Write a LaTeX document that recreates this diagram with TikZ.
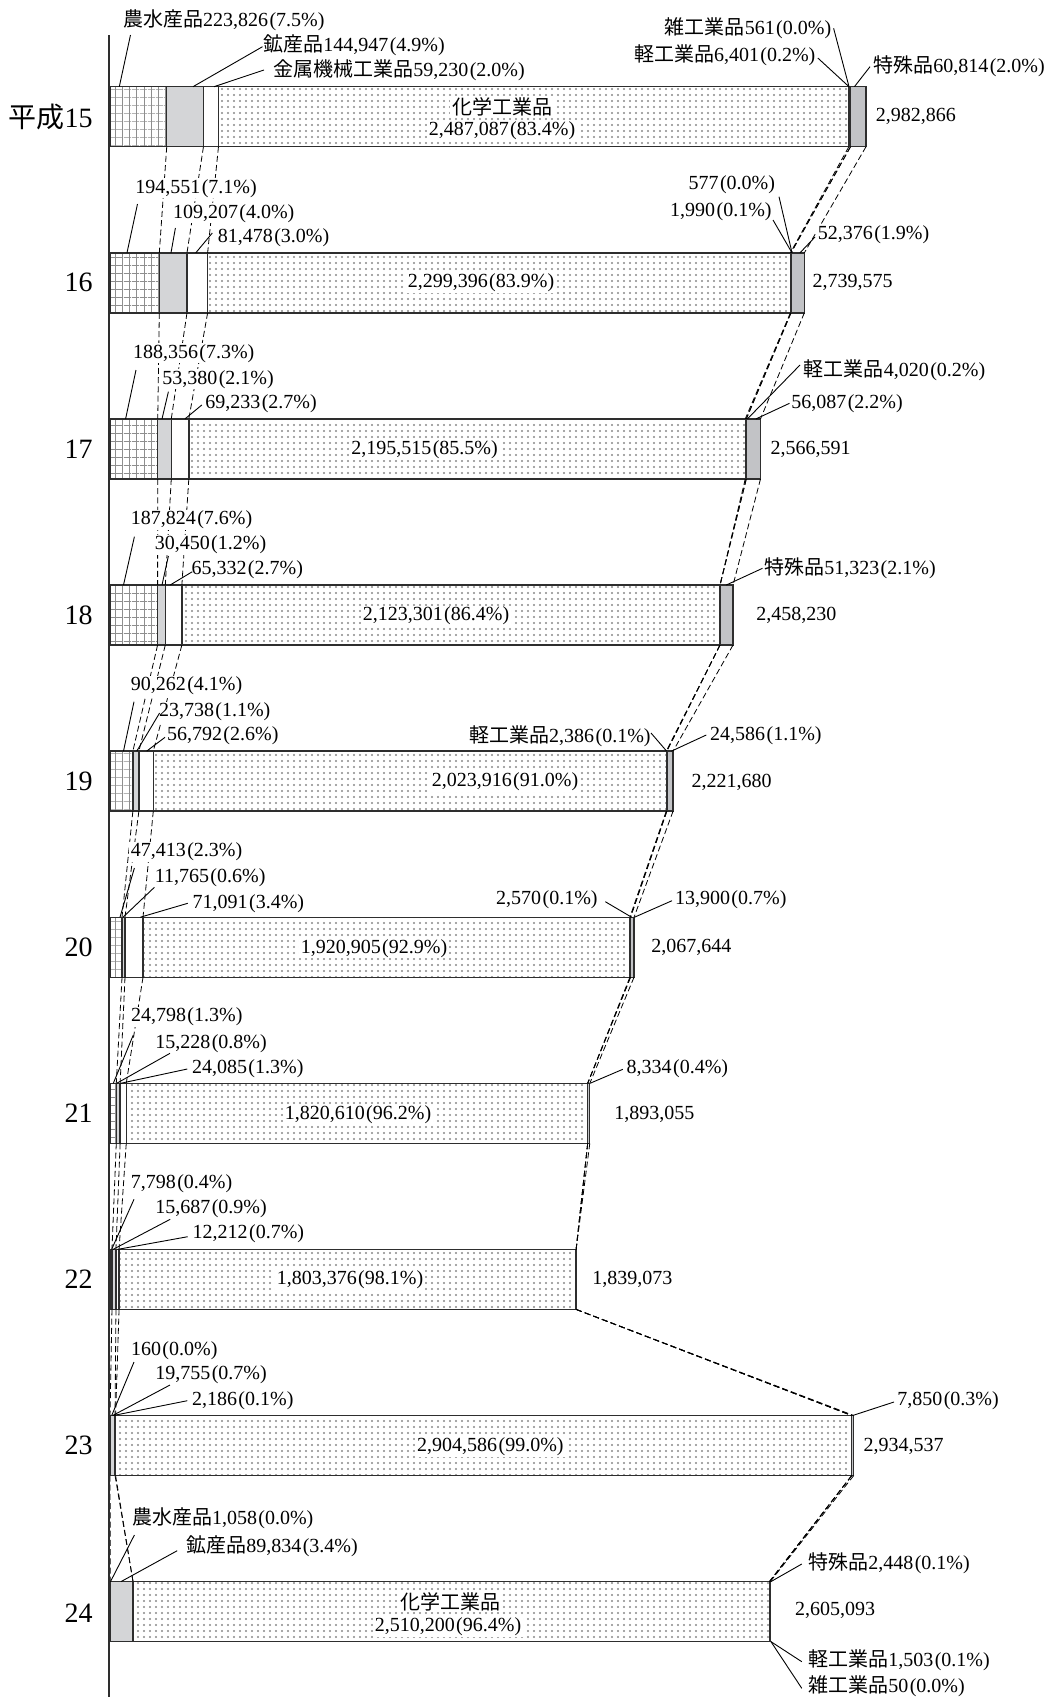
\documentclass[tikz,border=0pt]{standalone}
\usepackage{fontspec}
\setmainfont{Liberation Serif}
\newfontfamily\jfont{Noto Sans CJK JP}
\usetikzlibrary{patterns.meta,calc}
\definecolor{edgecol}{HTML}{2E2E2E}
\definecolor{minecol}{HTML}{D4D5D7}
\definecolor{specol}{HTML}{C2C3C6}
\definecolor{patcol}{HTML}{8E8E8E}
\definecolor{dotcol}{HTML}{888888}
\def\barscale{0.25345}
\newcommand\pp[1]{\kern0.7pt(#1\%)}
\tikzset{
  lab/.style={font=\fontsize{10}{12}\selectfont, inner xsep=1pt, inner ysep=0.5pt, fill=white, text=black},
  yearlab/.style={font=\fontsize{14}{16}\selectfont, anchor=east, inner sep=0pt, text=black},
  segline/.style={draw=edgecol, line width=0.7pt},
  conn/.style={draw=black, line width=0.4pt, dash pattern=on 3pt off 1.6pt},
  lead/.style={draw=black, line width=0.45pt},
  axisline/.style={draw=edgecol, line width=1.3pt},
}
% #1 name, #2 top y, #3..#9 values (thousands)
\newcommand\yearbar[9]{%
  \pgfmathsetmacro\yT{#2}%
  \pgfmathsetmacro\yB{#2+60}%
  \pgfmathsetmacro\xA{110+#3*\barscale}%
  \pgfmathsetmacro\xB{\xA+#4*\barscale}%
  \pgfmathsetmacro\xC{\xB+#5*\barscale}%
  \pgfmathsetmacro\xD{\xC+#6*\barscale}%
  \pgfmathsetmacro\xE{\xD+#7*\barscale}%
  \pgfmathsetmacro\xF{\xE+#8*\barscale}%
  \pgfmathsetmacro\xG{\xF+#9*\barscale}%
  \fill[pattern={Lines[distance=4pt,angle=0,line width=0.4pt]},pattern color=patcol] (110,\yT) rectangle (\xA,\yB);
  \fill[pattern={Lines[distance=3.6pt,angle=90,line width=0.4pt]},pattern color=patcol] (110,\yT) rectangle (\xA,\yB);
  \fill[minecol] (\xA,\yT) rectangle (\xB,\yB);
  \fill[pattern={Dots[distance=3pt,radius=0.52pt]},pattern color=dotcol] (\xC,\yT) rectangle (\xD,\yB);
  \fill[specol] (\xF,\yT) rectangle (\xG,\yB);
  \foreach \xx in {\xA,\xB,\xC,\xD,\xE,\xF}{\draw[segline] (\xx,\yT) -- (\xx,\yB);}
  \draw[segline] (110,\yT) rectangle (\xG,\yB);
  \coordinate (#1t1) at (\xA,\yT); \coordinate (#1b1) at (\xA,\yB);
  \coordinate (#1t2) at (\xB,\yT); \coordinate (#1b2) at (\xB,\yB);
  \coordinate (#1t3) at (\xC,\yT); \coordinate (#1b3) at (\xC,\yB);
  \coordinate (#1t4) at (\xD,\yT); \coordinate (#1b4) at (\xD,\yB);
  \coordinate (#1t5) at (\xE,\yT); \coordinate (#1b5) at (\xE,\yB);
  \coordinate (#1t6) at (\xF,\yT); \coordinate (#1b6) at (\xF,\yB);
  \coordinate (#1t7) at (\xG,\yT); \coordinate (#1b7) at (\xG,\yB);
}
\newcommand\barlink[2]{\foreach \k in {1,...,7}{\draw[conn] (#1b\k) -- (#2t\k);}}
\begin{document}
\begin{tikzpicture}[x=0.5pt,y=-0.5pt]
\useasboundingbox (0,0) rectangle (1057,1697);
% bars
\yearbar{ya}{86.7}{223.826}{144.947}{59.230}{2487.087}{6.401}{0.561}{60.814}
\yearbar{yb}{252.8}{194.551}{109.207}{81.478}{2299.396}{1.990}{0.577}{52.376}
\yearbar{yc}{418.9}{188.356}{53.380}{69.233}{2195.515}{4.020}{0}{56.087}
\yearbar{yd}{585.0}{187.824}{30.450}{65.332}{2123.301}{0}{0}{51.323}
\yearbar{ye}{751.1}{90.262}{23.738}{56.792}{2023.916}{2.386}{0}{24.586}
\yearbar{yf}{917.2}{47.413}{11.765}{71.091}{1920.905}{2.570}{0}{13.900}
\yearbar{yg}{1083.3}{24.798}{15.228}{24.085}{1820.610}{0}{0}{8.334}
\yearbar{yh}{1249.4}{7.798}{15.687}{12.212}{1803.376}{0}{0}{0}
\yearbar{yi}{1415.5}{0.160}{19.755}{2.186}{2904.586}{0}{0}{7.850}
\yearbar{yj}{1581.6}{1.058}{89.834}{0}{2510.200}{1.503}{0.050}{2.448}
% dashed connectors between consecutive bars
\barlink{ya}{yb}\barlink{yb}{yc}\barlink{yc}{yd}\barlink{yd}{ye}\barlink{ye}{yf}
\barlink{yf}{yg}\barlink{yg}{yh}\barlink{yh}{yi}\barlink{yi}{yj}
% axis
\coordinate (axtop) at (109,35);
\coordinate (axbot) at (109,1697);
\draw[axisline] (axtop) -- (axbot);
% year labels
\node[yearlab] (Y15) at (93,116.7) {{\jfont 平成}15};
\node[yearlab] (Y16) at (93,282.8) {16};
\node[yearlab] (Y17) at (93,448.9) {17};
\node[yearlab] (Y18) at (93,615.0) {18};
\node[yearlab] (Y19) at (93,781.1) {19};
\node[yearlab] (Y20) at (93,947.2) {20};
\node[yearlab] (Y21) at (93,1113.3) {21};
\node[yearlab] (Y22) at (93,1279.4) {22};
\node[yearlab] (Y23) at (93,1445.5) {23};
\node[yearlab] (Y24) at (93,1613.0) {24};
% ---------- year 15
\node[lab,anchor=west] (L15a) at (120.8,20.7) {{\jfont 農水産品}223,826\pp{7.5}};
\node[lab,anchor=west] (L15b) at (261,45) {{\jfont 鉱産品}144,947\pp{4.9}};
\node[lab,anchor=west] (L15c) at (271,70) {{\jfont 金属機械工業品}59,230\pp{2.0}};
\node[lab,anchor=east] (L15d) at (833.6,28.3) {{\jfont 雑工業品}561\pp{0.0}};
\node[lab,anchor=east] (L15e) at (817.8,55) {{\jfont 軽工業品}6,401\pp{0.2}};
\node[lab,anchor=west] (L15f) at (871,66.7) {{\jfont 特殊品}60,814\pp{2.0}};
\node[lab] (C15a) at (502,106.7) {{\jfont 化学工業品}};
\node[lab] (C15b) at (502,130.7) {2,487,087\pp{83.4}};
\node[lab,anchor=west,fill=none] (S15) at (873.4,116.7) {2,982,866};
\coordinate (E15a) at (119.3,86.7);
\coordinate (E15b) at (193,86.7);
\coordinate (E15c) at (214,86.7);
\coordinate (E15d) at (849,86.7);
\coordinate (E15f) at (854.4,86.7);
\draw[lead] ($(L15a.west)+(9.7,14.3)$) -- (E15a);
\draw[lead] ($(L15b.west)+(1.5,1.7)$) -- (E15b);
\draw[lead] ($(L15c.west)+(-7,0)$) -- (E15c);
\draw[lead] (L15d.east) -- (E15d);
\draw[lead] ($(L15e.east)+(0,3)$) -- (E15d);
\draw[lead] ($(L15f.west)+(-1,0)$) -- (E15f);
% ---------- year 16
\node[lab,anchor=west] (L16a) at (133,188.3) {194,551\pp{7.1}};
\node[lab,anchor=west] (L16b) at (170.6,213.3) {109,207\pp{4.0}};
\node[lab,anchor=west] (L16c) at (215.5,237.3) {81,478\pp{3.0}};
\node[lab,anchor=east] (L16d) at (777.4,185) {577\pp{0.0}};
\node[lab,anchor=east] (L16e) at (774,211.7) {1,990\pp{0.1}};
\node[lab,anchor=west] (L16f) at (815.5,235) {52,376\pp{1.9}};
\node[lab] (C16) at (481,283) {2,299,396\pp{83.9}};
\node[lab,anchor=west,fill=none] (S16) at (810.3,282.8) {2,739,575};
\coordinate (E16a) at (127,252.8);
\coordinate (E16b) at (171,252.8);
\coordinate (E16c) at (195.8,252.8);
\coordinate (E16d) at (792,252.8);
\coordinate (E16f) at (800,252.8);
\draw[lead] ($(L16a.west)+(4.5,15.7)$) -- (E16a);
\draw[lead] ($(L16b.west)+(4.8,14.7)$) -- (E16b);
\draw[lead] ($(L16c.west)+(-3.2,-4.3)$) -- (E16c);
\draw[lead] ($(L16d.east)+(1.6,11.7)$) -- (E16d);
\draw[lead] ($(L16e.east)+(-1,8.3)$) -- (E16d);
\draw[lead] ($(L16f.west)+(-0.5,2)$) -- (E16f);
% ---------- year 17
\node[lab,anchor=west] (L17a) at (130.6,353.3) {188,356\pp{7.3}};
\node[lab,anchor=west] (L17b) at (160,379.3) {53,380\pp{2.1}};
\node[lab,anchor=west] (L17c) at (203,404) {69,233\pp{2.7}};
\node[lab,anchor=west] (L17d) at (801.5,370) {{\jfont 軽工業品}4,020\pp{0.2}};
\node[lab,anchor=west] (L17e) at (789,403.3) {56,087\pp{2.2}};
\node[lab] (C17) at (424.6,450) {2,195,515\pp{85.5}};
\node[lab,anchor=west,fill=none] (S17) at (768.2,449) {2,566,591};
\coordinate (E17a) at (125.6,418.9);
\coordinate (E17b) at (162,418.9);
\coordinate (E17c) at (185,418.9);
\coordinate (E17d) at (747.4,418.9);
\coordinate (E17e) at (756,418.9);
\draw[lead] ($(L17a.west)+(5.4,16.7)$) -- (E17a);
\draw[lead] ($(L17b.west)+(8.4,12.4)$) -- (E17b);
\draw[lead] ($(L17c.west)+(-1.2,1)$) -- (E17c);
\draw[lead] ($(L17d.west)+(-1.5,-5)$) -- (E17d);
\draw[lead] ($(L17e.west)+(0.5,0)$) -- (E17e);
% ---------- year 18
\node[lab,anchor=west] (L18a) at (128.5,520) {187,824\pp{7.6}};
\node[lab,anchor=west] (L18b) at (152.4,545) {30,450\pp{1.2}};
\node[lab,anchor=west] (L18c) at (189.2,570) {65,332\pp{2.7}};
\node[lab,anchor=west] (L18d) at (761.9,568.3) {{\jfont 特殊品}51,323\pp{2.1}};
\node[lab] (C18) at (436,616) {2,123,301\pp{86.4}};
\node[lab,anchor=west,fill=none] (S18) at (754,615) {2,458,230};
\coordinate (E18a) at (123.5,585);
\coordinate (E18b) at (162,585);
\coordinate (E18c) at (170.2,585);
\coordinate (E18d) at (726.3,585);
\draw[lead] ($(L18a.west)+(5.9,16.7)$) -- (E18a);
\draw[lead] ($(L18b.west)+(16,11)$) -- (E18b);
\draw[lead] ($(L18c.west)+(3.1,1.7)$) -- (E18c);
\draw[lead] ($(L18d.west)+(0.6,0)$) -- (E18d);
% ---------- year 19
\node[lab,anchor=west] (L19a) at (128.5,686) {90,262\pp{4.1}};
\node[lab,anchor=west] (L19b) at (156.6,711.7) {23,738\pp{1.1}};
\node[lab,anchor=west] (L19c) at (164.7,736) {56,792\pp{2.6}};
\node[lab,anchor=east] (L19d) at (653,736) {{\jfont 軽工業品}2,386\pp{0.1}};
\node[lab,anchor=west] (L19e) at (707.8,736) {24,586\pp{1.1}};
\node[lab] (C19) at (505,782) {2,023,916\pp{91.0}};
\node[lab,anchor=west,fill=none] (S19) at (689.2,782.7) {2,221,680};
\coordinate (E19a) at (123.5,751.1);
\coordinate (E19b) at (136.8,751.1);
\coordinate (E19c) at (146.7,751.1);
\coordinate (E19d) at (666.6,751.1);
\coordinate (E19e) at (671.5,751.1);
\draw[lead] ($(L19a.west)+(5.5,15.7)$) -- (E19a);
\draw[lead] ($(L19b.west)+(3,1.3)$) -- (E19b);
\draw[lead] ($(L19c.west)+(0.3,1.3)$) -- (E19c);
\draw[lead] ($(L19d.east)+(-2,-3)$) -- (E19d);
\draw[lead] ($(L19e.west)+(-1.5,-1)$) -- (E19e);
% ---------- year 20
\node[lab,anchor=west] (L20a) at (128.5,851.7) {47,413\pp{2.3}};
\node[lab,anchor=west] (L20b) at (152.4,877.3) {11,765\pp{0.6}};
\node[lab,anchor=west] (L20c) at (190.3,903.3) {71,091\pp{3.4}};
\node[lab,anchor=east] (L20d) at (600,899.3) {2,570\pp{0.1}};
\node[lab,anchor=west] (L20e) at (672.7,899.3) {13,900\pp{0.7}};
\node[lab] (C20) at (374,948.3) {1,920,905\pp{92.9}};
\node[lab,anchor=west,fill=none] (S20) at (648.9,947.5) {2,067,644};
\coordinate (E20a) at (120,917.2);
\coordinate (E20b) at (123,917.2);
\coordinate (E20c) at (140.4,917.2);
\coordinate (E20d) at (631.6,917.2);
\coordinate (E20e) at (634.5,917.2);
\draw[lead] ($(L20a.west)+(5.9,16.3)$) -- (E20a);
\draw[lead] ($(L20b.west)+(2,10)$) -- (E20b);
\draw[lead] ($(L20c.west)+(-2.6,0)$) -- (E20c);
\draw[lead] ($(L20d.east)+(5.3,2.4)$) -- (E20d);
\draw[lead] ($(L20e.west)+(-0.7,1.4)$) -- (E20e);
% ---------- year 21
\node[lab,anchor=west] (L21a) at (128.7,1016.7) {24,798\pp{1.3}};
\node[lab,anchor=west] (L21b) at (153,1043.3) {15,228\pp{0.8}};
\node[lab,anchor=west] (L21c) at (189.7,1068.3) {24,085\pp{1.3}};
\node[lab,anchor=west] (L21d) at (624.3,1068.3) {8,334\pp{0.4}};
\node[lab] (C21) at (358,1115) {1,820,610\pp{96.2}};
\node[lab,anchor=west,fill=none] (S21) at (612,1114) {1,893,055};
\coordinate (E21a) at (113.3,1083.3);
\coordinate (E21b) at (116.7,1083.3);
\coordinate (E21c) at (120.7,1083.3);
\coordinate (E21d) at (590,1083.3);
\draw[lead] ($(L21a.west)+(4.6,18.3)$) -- (E21a);
\draw[lead] ($(L21b.west)+(17,10)$) -- (E21b);
\draw[lead] ($(L21c.west)+(-2.4,0.7)$) -- (E21c);
\draw[lead] ($(L21d.west)+(-1.5,1)$) -- (E21d);
% ---------- year 22
\node[lab,anchor=west] (L22a) at (128.5,1183.3) {7,798\pp{0.4}};
\node[lab,anchor=west] (L22b) at (153,1208.3) {15,687\pp{0.9}};
\node[lab,anchor=west] (L22c) at (190.3,1234) {12,212\pp{0.7}};
\node[lab] (C22) at (350,1280) {1,803,376\pp{98.1}};
\node[lab,anchor=west,fill=none] (S22) at (590,1279.6) {1,839,073};
\coordinate (E22a) at (111.6,1249.4);
\coordinate (E22b) at (113,1249.4);
\coordinate (E22c) at (117.5,1249.4);
\draw[lead] ($(L22a.west)+(5.5,16)$) -- (E22a);
\draw[lead] ($(L22b.west)+(17.2,11)$) -- (E22b);
\draw[lead] ($(L22c.west)+(-2.6,2.7)$) -- (E22c);
% ---------- year 23
\node[lab,anchor=west] (L23a) at (128.7,1350.7) {160\pp{0.0}};
\node[lab,anchor=west] (L23b) at (153,1375) {19,755\pp{0.7}};
\node[lab,anchor=west] (L23c) at (189.7,1400.7) {2,186\pp{0.1}};
\node[lab,anchor=west] (L23d) at (895,1401) {7,850\pp{0.3}};
\node[lab] (C23) at (490.4,1446.7) {2,904,586\pp{99.0}};
\node[lab,anchor=west,fill=none] (S23) at (861.2,1446) {2,934,537};
\coordinate (E23a) at (111.7,1415.5);
\coordinate (E23b) at (112.7,1415.5);
\coordinate (E23c) at (113.3,1415.5);
\coordinate (E23d) at (852.6,1415.5);
\draw[lead] ($(L23a.west)+(5.3,11.3)$) -- (E23a);
\draw[lead] ($(L23b.west)+(17,10)$) -- (E23b);
\draw[lead] ($(L23c.west)+(-2.4,0)$) -- (E23c);
\draw[lead] ($(L23d.west)+(-1,1)$) -- (E23d);
% ---------- year 24
\node[lab,anchor=west] (L24a) at (129.6,1518.3) {{\jfont 農水産品}1,058\pp{0.0}};
\node[lab,anchor=west] (L24b) at (184,1546.7) {{\jfont 鉱産品}89,834\pp{3.4}};
\node[lab,anchor=west] (L24c) at (806,1563.3) {{\jfont 特殊品}2,448\pp{0.1}};
\node[lab,anchor=west] (L24d) at (806,1660) {{\jfont 軽工業品}1,503\pp{0.1}};
\node[lab,anchor=west] (L24e) at (806,1686) {{\jfont 雑工業品}50\pp{0.0}};
\node[lab] (C24a) at (450,1601.7) {{\jfont 化学工業品}};
\node[lab] (C24b) at (448,1626.7) {2,510,200\pp{96.4}};
\node[lab,anchor=west,fill=none] (S24) at (792.7,1610.7) {2,605,093};
\coordinate (E24a) at (110.5,1581.6);
\coordinate (E24b) at (121,1581.6);
\coordinate (E24c) at (770.9,1581.6);
\coordinate (E24d) at (770.9,1641.6);
\draw[lead] ($(L24a.west)+(4.8,16.7)$) -- (E24a);
\draw[lead] ($(L24b.west)+(-6.8,4)$) -- (E24b);
\draw[lead] ($(L24c.west)+(-4.2,0.7)$) -- (E24c);
\draw[lead] ($(L24d.west)+(-4.2,1.7)$) -- (E24d);
\draw[lead] ($(L24e.west)+(-4.2,2.3)$) -- (E24d);
\end{tikzpicture}
\end{document}
